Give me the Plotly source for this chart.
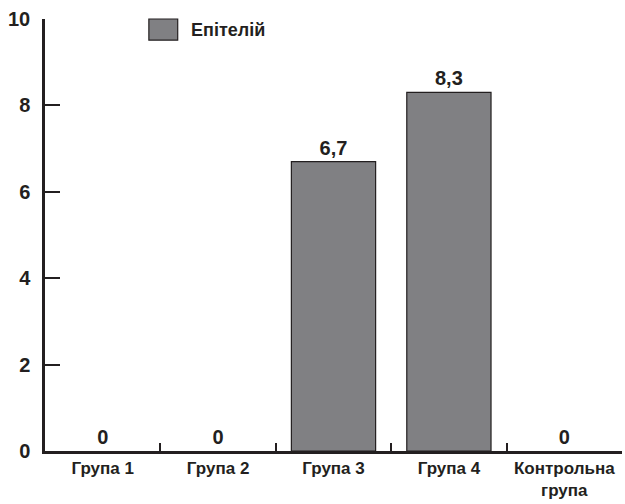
import plotly.graph_objects as go

# Data
categories = ["Група 1", "Група 2", "Група 3", "Група 4", "Контрольна<br>група"]
epithelium = [0, 0, 6.7, 8.3, 0]
series_name = "Епітелій"
y_ticks = [0, 2, 4, 6, 8, 10]

FONT = "Liberation Sans"
INK = "#231f20"
BAR = "#808083"

labels = [f"<b>{v:g}</b>".replace(".", ",") for v in epithelium]
x_ticktext = [f"<b>{c}</b>".replace("<br>", "</b><br><b>") for c in categories]
y_ticktext = [f"<b>{t}</b>" for t in y_ticks]

fig = go.Figure()
fig.add_trace(go.Bar(
    x=categories,
    y=epithelium,
    name=series_name,
    width=0.73,
    marker=dict(color=BAR,
                line=dict(color=INK, width=[1.2 if v > 0 else 0 for v in epithelium])),
    text=labels,
    textposition="outside",
    textfont=dict(family=FONT, size=20, color=INK),
    cliponaxis=False,
    showlegend=False,
))

# Legend key drawn as a box plus label
fig.add_shape(type="rect", xref="paper", yref="paper",
              x0=0.180, x1=0.230, y0=1.0, y1=0.951,
              fillcolor=BAR, line=dict(color=INK, width=1.2))
fig.add_annotation(xref="paper", yref="paper", x=0.250, y=0.975,
                   text=f"<b>{series_name}</b>", showarrow=False,
                   xanchor="left", yanchor="middle",
                   font=dict(family=FONT, size=18, color=INK))

fig.update_layout(
    width=625, height=504,
    margin=dict(l=45, r=3, t=19, b=53),
    paper_bgcolor="white", plot_bgcolor="white",
    font=dict(family=FONT, color=INK),
    bargap=0.27,
)
fig.update_xaxes(
    type="category", automargin=False, tickangle=0,
    tickmode="array", tickvals=categories, ticktext=x_ticktext,
    showline=True, linecolor=INK, linewidth=2.5,
    ticks="inside", tickson="boundaries", ticklen=8, tickwidth=2, tickcolor=INK,
    tickfont=dict(family=FONT, size=17, color=INK),
    ticklabelstandoff=0,
    showgrid=False, zeroline=False,
)
fig.update_yaxes(
    range=[0, 10], automargin=False,
    tickmode="array", tickvals=y_ticks, ticktext=y_ticktext,
    showline=True, linecolor=INK, linewidth=2.5,
    ticks="inside", ticklen=15, tickwidth=2, tickcolor=INK,
    tickfont=dict(family=FONT, size=20, color=INK),
    ticklabelstandoff=8,
    showgrid=False, zeroline=False,
)

fig.write_html("out.html")
